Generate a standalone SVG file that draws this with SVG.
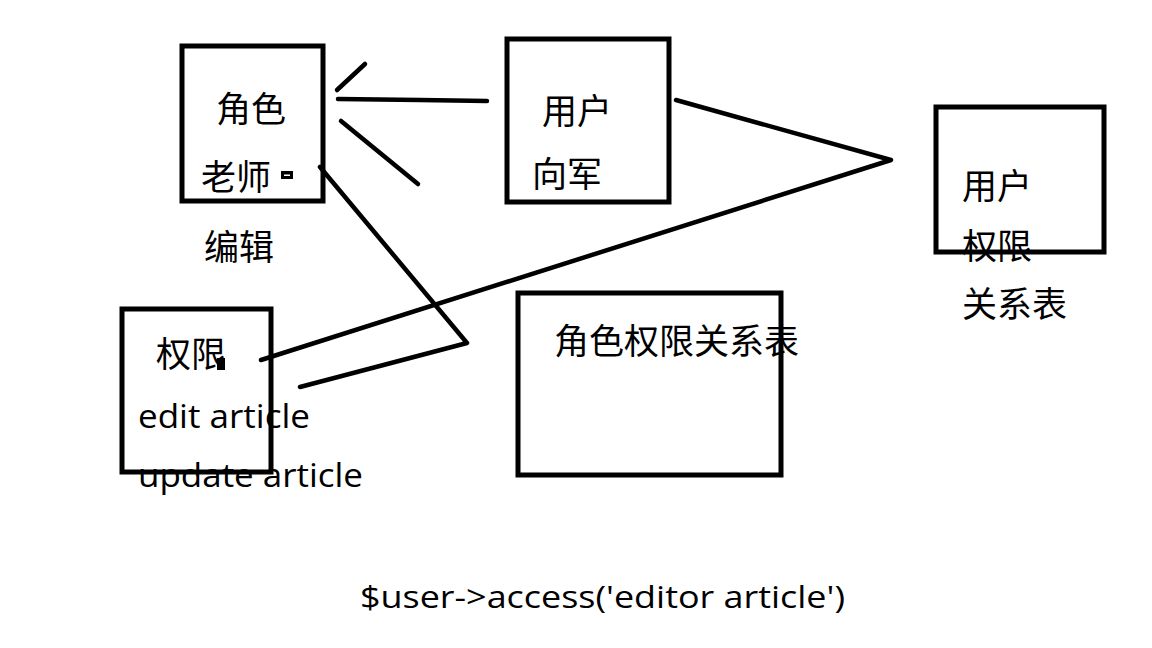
<svg xmlns="http://www.w3.org/2000/svg" width="1152" height="648" viewBox="0 0 1152 648">
<style>
.box{fill:none;stroke:#000;stroke-width:5}
.ln{fill:none;stroke:#000;stroke-width:4.5;stroke-linecap:round;stroke-linejoin:round}
.cjk{font-family:"Noto Sans CJK SC",sans-serif;font-size:35px;fill:#000}
.lat{font-family:"Open Sans","Liberation Sans",sans-serif;font-size:33px;fill:#000}
</style>
<rect width="1152" height="648" fill="#fff"/>
<g id="connectors">
<polyline class="ln" points="337,90 365,64"/>
<polyline class="ln" points="338,99 420,100 487,101"/>
<polyline class="ln" points="341,121 418,184"/>
<polyline class="ln" points="320,167 467,343 300,387"/>
<polyline class="ln" points="676,100 891,160 261,360"/>
</g>
<g id="role">
<rect class="box" x="182" y="46" width="141" height="155"/>
<text class="cjk" x="216" y="122">角色</text>
<text class="cjk" x="201" y="190">老师</text>
<rect x="281" y="171" width="12" height="8" fill="#000"/>
<rect x="284" y="174.5" width="6" height="1.5" fill="#fff"/>
<text class="cjk" x="204" y="260">编辑</text>
</g>
<g id="user">
<rect class="box" x="507" y="39" width="162" height="163"/>
<text class="cjk" x="542" y="124">用户</text>
<text class="cjk" x="532" y="187">向军</text>
</g>
<g id="user-permission-table">
<rect class="box" x="936" y="107" width="168" height="145"/>
<text class="cjk" x="962" y="199">用户</text>
<text class="cjk" x="962" y="259">权限</text>
<text class="cjk" x="962" y="317">关系表</text>
</g>
<g id="permission">
<rect class="box" x="122" y="309" width="149" height="163"/>
<text class="cjk" x="156" y="367">权限</text>
<rect x="217" y="358" width="8" height="12" fill="#000"/>
<text class="lat" x="138" y="428" textLength="172" lengthAdjust="spacingAndGlyphs">edit article</text>
<text class="lat" x="138" y="487" textLength="225" lengthAdjust="spacingAndGlyphs">update article</text>
</g>
<g id="role-permission-table">
<rect class="box" x="518" y="293" width="263" height="182"/>
<text class="cjk" x="554" y="354">角色权限关系表</text>
</g>
<g id="code">
<text class="lat" x="360" y="608" style="font-size:31px" textLength="485" lengthAdjust="spacingAndGlyphs">$user-&gt;access('editor article')</text>
</g>
</svg>
